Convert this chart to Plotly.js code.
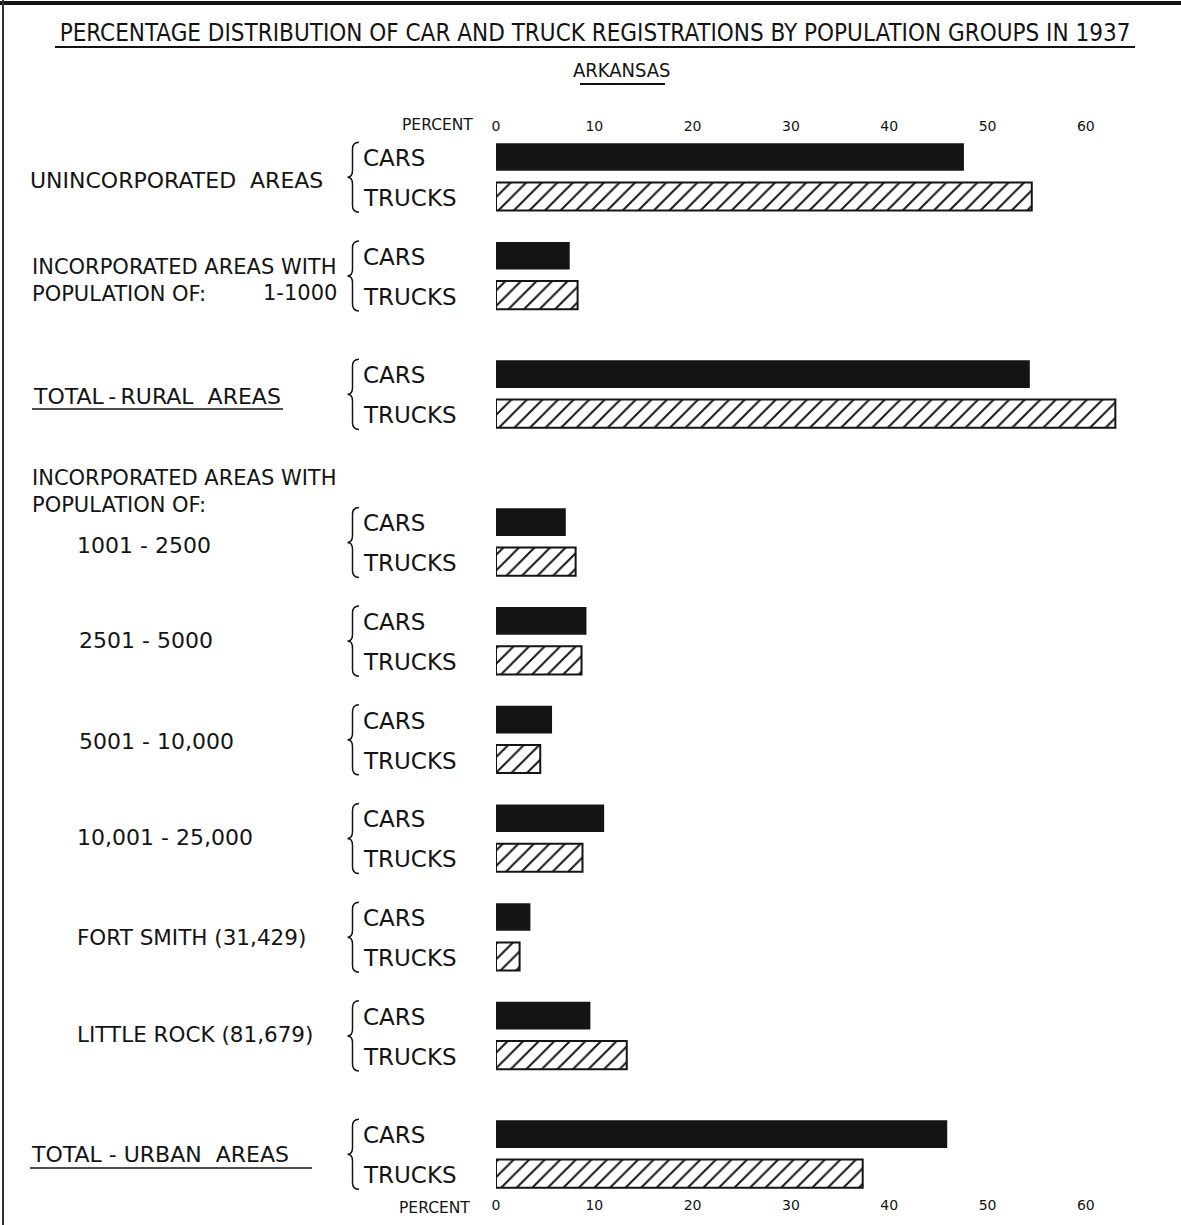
<!DOCTYPE html>
<html>
<head>
<meta charset="utf-8">
<script src="https://cdn.plot.ly/plotly-3.0.1.min.js"></script>
<style>
  html, body { margin: 0; padding: 0; background: #ffffff; }
  #chart { width: 1181px; height: 1225px; }
</style>
</head>
<body>
<div id="chart"></div>
<script>
// ---------------- DATA ----------------
const groups = [
  "UNINCORPORATED\u00a0\u00a0AREAS",
  "INCORPORATED AREAS WITH POPULATION OF: 1-1000",
  "TOTAL\u2009-\u2009RURAL\u00a0\u00a0AREAS",
  "1001 - 2500",
  "2501 - 5000",
  "5001 - 10,000",
  "10,001 - 25,000",
  "FORT SMITH (31,429)",
  "LITTLE ROCK (81,679)",
  "TOTAL - URBAN\u00a0 AREAS"
];
const carsPct   = [47.6, 7.5, 54.3, 7.1, 9.2, 5.7, 11.0, 3.5, 9.6, 45.9];
const trucksPct = [54.5, 8.3, 63.0, 8.1, 8.7, 4.5,  8.8, 2.4, 13.3, 37.3];
const seriesNames = ["CARS", "TRUCKS"];
const xTickVals = [0, 10, 20, 30, 40, 50, 60];
const xTickText = ["0", "10", "20", "30", "40", "50", "60"];
const axisWord = "PERCENT";
const titleLine1 = "PERCENTAGE DISTRIBUTION OF CAR AND TRUCK REGISTRATIONS BY POPULATION GROUPS IN 1937";
const titleLine2 = "ARKANSAS";
const subHeader = ["INCORPORATED AREAS WITH", "POPULATION OF:"];

// ---------------- LAYOUT GEOMETRY (not data) ----------------
const W = 1181, H = 1225;
const M = { l: 496, r: 46, t: 135, b: 30 };
const plotW = W - M.l - M.r, plotH = H - M.t - M.b;
// vertical slot of each group's "cars" row (truck row is +4 below)
const groupSlot = [0, 10, 22, 37, 47, 57, 67, 77, 87, 99];
const rowGap = 4;
const yRange = [105.17, -2.23];
const FONT = "DejaVu Sans, Verdana, sans-serif";
const TFONT = "Liberation Sans Narrow, DejaVu Sans Condensed, Arial Narrow, sans-serif";
const INK = "#141414";

const px2x = px => (px - M.l) / plotW;             // paper x
const py2y = py => (H - M.b - py) / plotH;          // paper y

const carsY = groupSlot.slice();
const trucksY = groupSlot.map(s => s + rowGap);

const traces = [
  {
    type: "bar", orientation: "h", name: seriesNames[0],
    x: carsPct, y: carsY, width: 2.8,
    marker: { color: INK, line: { width: 0 } },
    xaxis: "x", yaxis: "y", hoverinfo: "skip"
  },
  {
    type: "bar", orientation: "h", name: seriesNames[1],
    x: trucksPct, y: trucksY, width: 2.85,
    marker: {
      color: "#ffffff",
      line: { width: 2, color: INK },
      pattern: { shape: "/", fgcolor: INK, bgcolor: "#ffffff", size: 11, solidity: 0.18 }
    },
    xaxis: "x2", yaxis: "y", hoverinfo: "skip"
  }
];

// ---------------- ANNOTATIONS ----------------
const ann = [];
function label(text, pxLeft, yVal, size) {
  ann.push({
    text: text, xref: "paper", x: px2x(pxLeft), xanchor: "left",
    yref: "y", y: yVal, yanchor: "middle",
    showarrow: false, align: "left",
    font: { family: FONT, size: size || 22, color: INK }
  });
}
const U = 9.87; // px per y-unit
const pxToSlot = py => (py - 157) / U;

// group labels
label(groups[0], 28, pxToSlot(180), 22);
label(subHeader[0] + "<br>" + subHeader[1], 30, pxToSlot(280), 21);
ann.push({
  text: groups[1].split(": ")[1], xref: "paper", x: px2x(339), xanchor: "right",
  yref: "y", y: pxToSlot(293), yanchor: "middle", showarrow: false,
  font: { family: FONT, size: 21, color: INK }
});
label(groups[2], 31, pxToSlot(396), 22);
label(subHeader[0] + "<br>" + subHeader[1], 30, pxToSlot(491), 21);
label(groups[3], 75, pxToSlot(545));
label(groups[4], 77, pxToSlot(641));
label(groups[5], 77, pxToSlot(742));
label(groups[6], 75, pxToSlot(838));
label(groups[7], 75, pxToSlot(938), 21.5);
label(groups[8], 75, pxToSlot(1035), 21.5);
label(groups[9], 29, pxToSlot(1155), 22);

// CARS / TRUCKS row labels
groupSlot.forEach((s, i) => {
  label(seriesNames[0], 361, carsY[i] + 0.1, 23);
  label(seriesNames[1], 361, trucksY[i] + 0.15, 23);
});

// PERCENT words beside tick labels
ann.push({
  text: axisWord, xref: "paper", x: px2x(475), xanchor: "right",
  yref: "paper", y: py2y(125), yanchor: "middle", showarrow: false,
  font: { family: FONT, size: 15.5, color: INK }
});
ann.push({
  text: axisWord, xref: "paper", x: px2x(472), xanchor: "right",
  yref: "paper", y: py2y(1208), yanchor: "middle", showarrow: false,
  font: { family: FONT, size: 15.5, color: INK }
});

// subtitle
ann.push({
  text: titleLine2, xref: "paper", x: px2x(622), xanchor: "center",
  yref: "paper", y: py2y(70), yanchor: "middle", showarrow: false,
  font: { family: TFONT, size: 20, color: INK }
});

// ---------------- SHAPES (decoration) ----------------
const shapes = [];
function hline(x0, x1, py, w) {
  shapes.push({ type: "line", xref: "paper", yref: "paper",
    x0: px2x(x0), x1: px2x(x1), y0: py2y(py), y1: py2y(py),
    line: { color: INK, width: w || 2 } });
}
// frame (top + left)
hline(0, W, 3, 4);
shapes.push({ type: "line", xref: "paper", yref: "paper",
  x0: px2x(3), x1: px2x(3), y0: py2y(0), y1: py2y(H),
  line: { color: "#333", width: 2 } });
// underlines
hline(55, 1135, 47, 2);
hline(580, 665, 84, 2);
hline(32, 283, 409, 1.5);
hline(30, 312, 1168, 1.5);

// braces
groupSlot.forEach((s, i) => {
  const yT = carsY[i] - 1.5, yB = trucksY[i] + 1.6, yC = (yT + yB) / 2;
  const xr = px2x(359), xm = px2x(352.5), xp = px2x(347.5);
  const d = 0.7;
  const path = `M ${xr},${yT} Q ${xm},${yT} ${xm},${yT + d} L ${xm},${yC - d} ` +
               `Q ${xm},${yC} ${xp},${yC} Q ${xm},${yC} ${xm},${yC + d} ` +
               `L ${xm},${yB - d} Q ${xm},${yB} ${xr},${yB}`;
  shapes.push({ type: "path", xref: "paper", yref: "y", path: path,
    line: { color: INK, width: 1.5 }, fillcolor: "rgba(0,0,0,0)" });
});

// ---------------- LAYOUT ----------------
const axisCommon = {
  range: [0, 65], showgrid: false, zeroline: false, showline: false,
  tickmode: "array", tickvals: xTickVals, ticktext: xTickText,
  ticks: "", tickfont: { family: FONT, size: 14, color: INK }, fixedrange: true
};
const layout = {
  width: W, height: H,
  margin: M,
  paper_bgcolor: "#ffffff", plot_bgcolor: "#ffffff",
  showlegend: false,
  title: {
    text: titleLine1, xref: "container", x: 595 / W, xanchor: "center",
    yref: "container", y: 1 - 33 / H, yanchor: "middle",
    font: { family: TFONT, size: 24, color: INK }
  },
  xaxis: Object.assign({}, axisCommon, { side: "bottom", anchor: "y" }),
  xaxis2: Object.assign({}, axisCommon, { side: "top", overlaying: "x", matches: "x", anchor: "y" }),
  yaxis: { range: yRange, showgrid: false, zeroline: false, showline: false,
           showticklabels: false, ticks: "", fixedrange: true },
  annotations: ann,
  shapes: shapes
};

Plotly.newPlot("chart", traces, layout, { staticPlot: true, displayModeBar: false });
</script>
</body>
</html>
